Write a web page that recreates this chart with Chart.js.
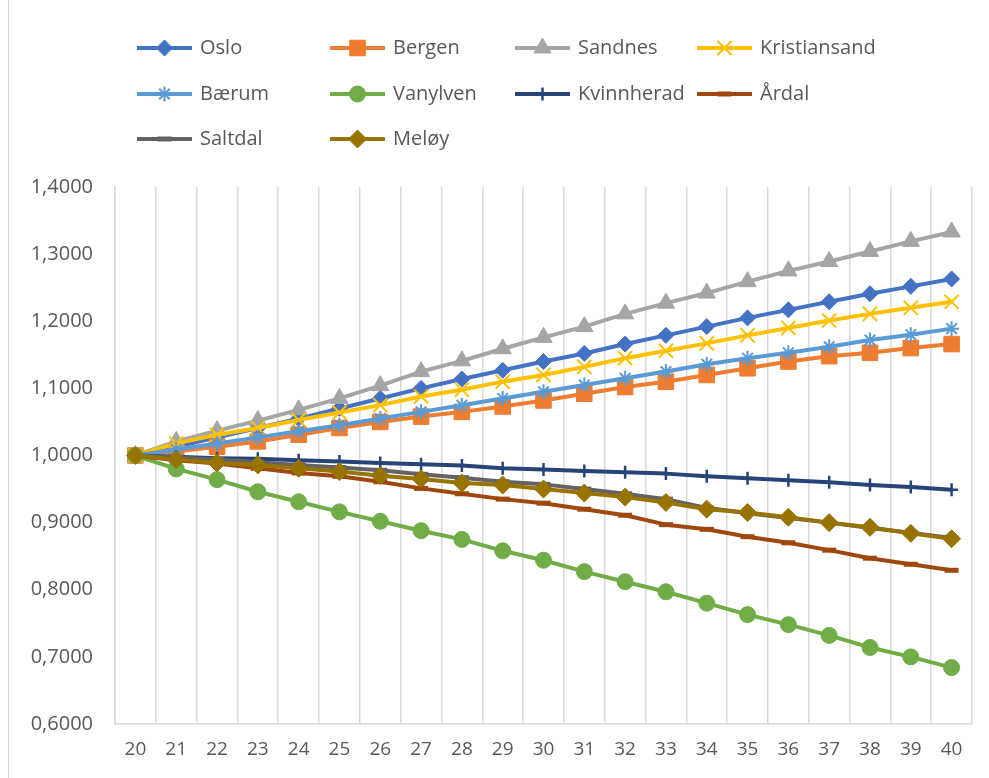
<!DOCTYPE html>
<html>
<head>
<meta charset="utf-8">
<script src="https://cdn.jsdelivr.net/npm/chart.js@4/dist/chart.umd.min.js"></script>
<style>
  html, body { margin: 0; padding: 0; background: #ffffff; }
  #wrap { position: relative; width: 989px; height: 778px; overflow: hidden; }
  #frame { position: absolute; left: 8px; top: 0; width: 1px; height: 778px; background: #d9d9d9; }
  canvas { position: absolute; left: 0; top: 0; }
</style>
</head>
<body>
<div id="wrap">
  <div id="frame"></div>
  <canvas id="chart" width="989" height="778"></canvas>
</div>
<script>
// Age categories on the x axis
const ages = ['20','21','22','23','24','25','26','27','28','29','30','31','32','33','34','35','36','37','38','39','40'];

// Index values per municipality (1,0000 at age 20)
const oslo         = [1.000, 1.013, 1.027, 1.041, 1.055, 1.070, 1.085, 1.100, 1.114, 1.127, 1.140, 1.152, 1.166, 1.179, 1.192, 1.205, 1.217, 1.229, 1.241, 1.252, 1.263];
const bergen       = [1.000, 1.006, 1.013, 1.021, 1.031, 1.041, 1.050, 1.058, 1.065, 1.073, 1.082, 1.092, 1.102, 1.110, 1.120, 1.130, 1.140, 1.148, 1.153, 1.160, 1.166];
const sandnes      = [1.000, 1.021, 1.037, 1.052, 1.068, 1.085, 1.104, 1.125, 1.141, 1.159, 1.176, 1.192, 1.211, 1.227, 1.242, 1.259, 1.275, 1.289, 1.304, 1.319, 1.333];
const kristiansand = [1.000, 1.018, 1.031, 1.041, 1.053, 1.064, 1.075, 1.088, 1.098, 1.110, 1.120, 1.132, 1.145, 1.156, 1.167, 1.179, 1.190, 1.201, 1.211, 1.220, 1.229];
const baerum       = [1.000, 1.009, 1.018, 1.027, 1.036, 1.045, 1.055, 1.065, 1.075, 1.085, 1.095, 1.105, 1.115, 1.125, 1.136, 1.145, 1.153, 1.162, 1.172, 1.180, 1.189];
const vanylven     = [1.000, 0.980, 0.964, 0.946, 0.931, 0.916, 0.902, 0.888, 0.875, 0.858, 0.844, 0.827, 0.812, 0.797, 0.780, 0.763, 0.748, 0.732, 0.714, 0.700, 0.684];
const kvinnherad   = [1.000, 0.998, 0.996, 0.995, 0.993, 0.991, 0.989, 0.987, 0.985, 0.981, 0.979, 0.977, 0.975, 0.973, 0.969, 0.966, 0.963, 0.960, 0.956, 0.953, 0.949];
const aardal       = [1.000, 0.993, 0.988, 0.981, 0.974, 0.969, 0.961, 0.951, 0.943, 0.935, 0.929, 0.920, 0.911, 0.897, 0.890, 0.879, 0.870, 0.859, 0.847, 0.838, 0.829];
const saltdal      = [1.000, 0.997, 0.994, 0.990, 0.986, 0.982, 0.978, 0.972, 0.967, 0.961, 0.957, 0.950, 0.943, 0.935, 0.922, 0.914, 0.907, 0.900, 0.892, 0.885, 0.877];
const meloy        = [1.000, 0.994, 0.989, 0.986, 0.981, 0.976, 0.970, 0.965, 0.959, 0.956, 0.950, 0.944, 0.938, 0.930, 0.920, 0.915, 0.908, 0.900, 0.893, 0.884, 0.876];

// Y axis range and step
const yMin = 0.6, yMax = 1.4, yStep = 0.1;

const TEXT = '#595959';
const GRID = '#d9d9d9';
const FONT = "'Open Sans', 'Liberation Sans', sans-serif";

// name, values, colour, marker style, marker radius, marker stroke width, filled marker
const seriesDefs = [
  ['Oslo',         oslo,         '#4472C4', 'rectRot',  8,   1,   true],
  ['Bergen',       bergen,       '#ED7D31', 'rect',     11,  1,   true],
  ['Sandnes',      sandnes,      '#A5A5A5', 'triangle', 10,  1,   true],
  ['Kristiansand', kristiansand, '#FFC000', 'crossRot', 10,  2,   false],
  ['Bærum',        baerum,       '#5B9BD5', 'star',     7.5, 2,   false],
  ['Vanylven',     vanylven,     '#70AD47', 'circle',   8,   1,   true],
  ['Kvinnherad',   kvinnherad,   '#264478', 'cross',    6.5, 2.5, false],
  ['Årdal',        aardal,       '#9E480E', 'line',     7,   5,   false],
  ['Saltdal',      saltdal,      '#636363', 'line',     7,   5,   false],
  ['Meløy',        meloy,        '#997300', 'rectRot',  9,   1,   true]
];

const datasets = seriesDefs.map(([name, values, color, style, r, bw, filled], i) => ({
  label: name,
  data: values,
  borderColor: color,
  backgroundColor: filled ? color : 'rgba(0,0,0,0)',
  borderWidth: 4,
  borderJoinStyle: 'round',
  borderCapStyle: 'round',
  tension: 0,
  pointStyle: style,
  pointRadius: r,
  pointBorderWidth: bw,
  pointBackgroundColor: filled ? color : 'rgba(0,0,0,0)',
  pointBorderColor: color,
  // later series are painted over earlier ones
  order: seriesDefs.length - i
}));

// Legend laid out as a 4-column grid above the plot
const legendGrid = {
  id: 'legendGrid',
  afterDraw(chart) {
    const ctx = chart.ctx;
    const colX = [137, 330, 515, 697];
    const rowY = [48, 94, 139];
    const sampleLen = 55;
    ctx.save();
    chart.data.datasets.forEach((ds, i) => {
      const x = colX[i % 4];
      const y = rowY[Math.floor(i / 4)];
      ctx.strokeStyle = ds.borderColor;
      ctx.lineWidth = 4;
      ctx.lineCap = 'butt';
      ctx.beginPath();
      ctx.moveTo(x, y);
      ctx.lineTo(x + sampleLen, y);
      ctx.stroke();
      ctx.fillStyle = ds.pointBackgroundColor;
      ctx.lineWidth = ds.pointBorderWidth;
      Chart.helpers.drawPoint(ctx, {
        pointStyle: ds.pointStyle,
        radius: ds.pointRadius,
        borderWidth: ds.pointBorderWidth,
        rotation: 0
      }, x + sampleLen / 2, y);
      ctx.fillStyle = TEXT;
      ctx.font = "20px " + FONT;
      ctx.textBaseline = 'middle';
      ctx.textAlign = 'left';
      ctx.fillText(ds.label, x + sampleLen + 8, y);
    });
    ctx.restore();
  }
};

new Chart(document.getElementById('chart'), {
  type: 'line',
  data: { labels: ages, datasets },
  plugins: [legendGrid],
  options: {
    responsive: false,
    animation: false,
    events: [],
    layout: { padding: { top: 187, right: 17, left: 0, bottom: 0 } },
    plugins: {
      legend: { display: false },
      tooltip: { enabled: false }
    },
    scales: {
      x: {
        offset: true,
        grid: { offset: true, color: GRID, lineWidth: 1.5, drawTicks: false },
        border: { display: true, color: GRID, width: 1.5 },
        ticks: {
          color: TEXT,
          padding: 14,
          autoSkip: false,
          maxRotation: 0,
          font: { family: FONT, size: 19 }
        },
        afterFit(scale) { scale.height = 54; }
      },
      y: {
        min: yMin,
        max: yMax,
        grid: { display: false, drawTicks: false },
        border: { display: true, color: GRID, width: 1.5 },
        ticks: {
          stepSize: yStep,
          color: TEXT,
          padding: 22,
          font: { family: FONT, size: 20 },
          callback: v => Number(v).toFixed(4).replace('.', ',')
        },
        afterFit(scale) { scale.width = 115; }
      }
    }
  }
});
</script>
</body>
</html>
